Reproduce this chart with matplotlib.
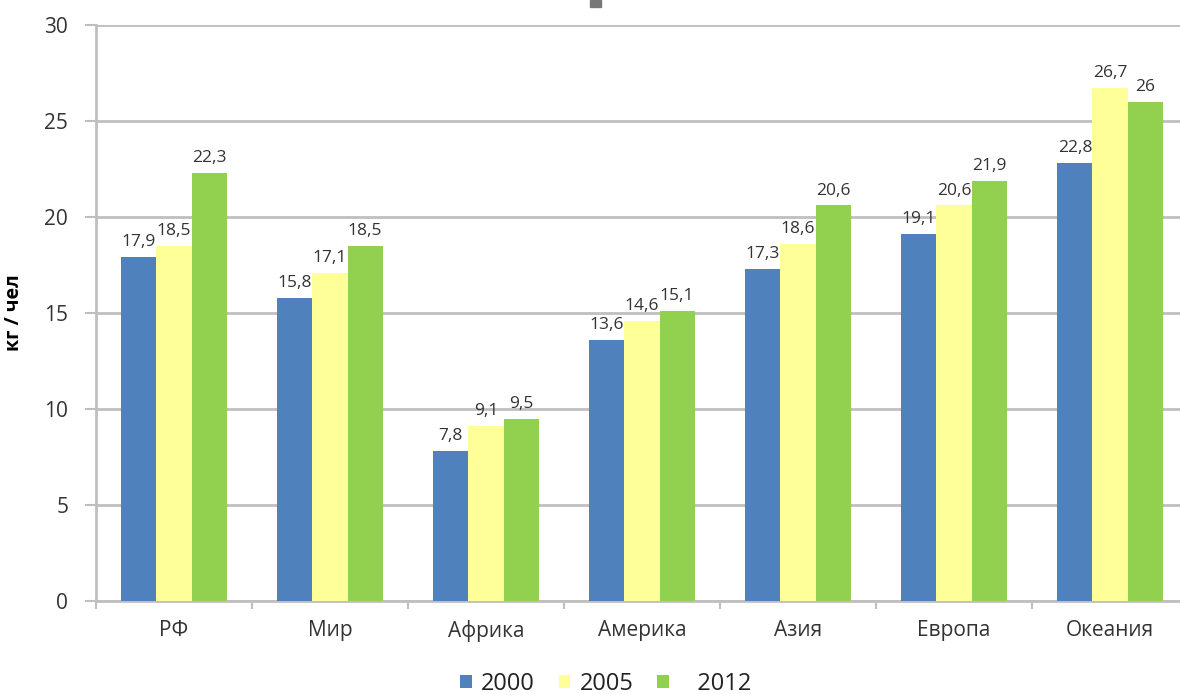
import matplotlib
matplotlib.use("Agg")
import matplotlib.pyplot as plt
import numpy as np
from matplotlib.patches import Rectangle

categories = ["РФ", "Мир", "Африка", "Америка", "Азия", "Европа", "Океания"]
years = ["2000", "2005", "2012"]
v2000 = [17.9, 15.8, 7.8, 13.6, 17.3, 19.1, 22.8]
v2005 = [18.5, 17.1, 9.1, 14.6, 18.6, 20.6, 26.7]
v2012 = [22.3, 18.5, 9.5, 15.1, 20.6, 21.9, 26.0]
series = [v2000, v2005, v2012]
colors = ["#4F81BD", "#FFFF99", "#92D050"]
ylabel = "кг / чел"

plt.rcParams['font.family'] = ['Open Sans', 'DejaVu Sans']

W, H = 1180, 695
fig = plt.figure(figsize=(W / 100, H / 100), dpi=100)
ax = fig.add_axes([96 / W, 1 - 601 / H, 1092 / W, 576 / H])

x = np.arange(len(categories))
bw = 0.225
grid_c = "#BFBFBF"
legend_labels = ["2000", "2005", "   2012"]
for i, (vals, c) in enumerate(zip(series, colors)):
    pos = x + (i - 1) * bw
    ax.bar(pos, vals, width=bw, color=c, label=legend_labels[i], zorder=3)
    for p, v in zip(pos, vals):
        lab = ("%g" % v).replace(".", ",")
        ax.annotate(lab, (p, v), xytext=(0, 5), textcoords="offset points",
                    ha="center", va="bottom", fontsize=12.5, color="#333333")

ax.set_xlim(-0.5, len(categories) - 0.5)
ax.set_ylim(0, 30)
ax.set_yticks(np.arange(0, 31, 5))
ax.yaxis.grid(True, color=grid_c, linewidth=2, zorder=0)
ax.set_axisbelow(True)
for s in ["top", "right"]:
    ax.spines[s].set_visible(False)
for s in ["left", "bottom"]:
    ax.spines[s].set_color(grid_c)
    ax.spines[s].set_linewidth(2)

ax.set_xticks(x)
ax.set_xticklabels(categories, fontsize=15, color="#333333")
ax.set_xticks(np.arange(-0.5, len(categories), 1), minor=True)
ax.tick_params(axis="x", which="major", length=0, pad=14)
ax.tick_params(axis="x", which="minor", length=6, width=1.5, color=grid_c)
ax.tick_params(axis="y", length=8, width=1.5, color=grid_c, labelsize=15,
               labelcolor="#333333", pad=12)
ax.set_ylabel(ylabel, fontsize=14, fontweight="bold")
ax.yaxis.set_label_coords(-72 / 1092, 0.5)

handles, labels = ax.get_legend_handles_labels()
leg = fig.legend(handles, labels, loc="center", bbox_to_anchor=(0.513, 1 - 684 / H),
                 ncol=3, frameon=False, fontsize=17, handlelength=0.5,
                 handleheight=0.5, handletextpad=0.4, columnspacing=1.0,
                 labelcolor="#222222")

fig.patches.append(Rectangle((590 / W, 1 - 7 / H), 11 / W, 7 / H,
                             transform=fig.transFigure, color="#777777"))

fig.savefig("out.png", dpi=100)
